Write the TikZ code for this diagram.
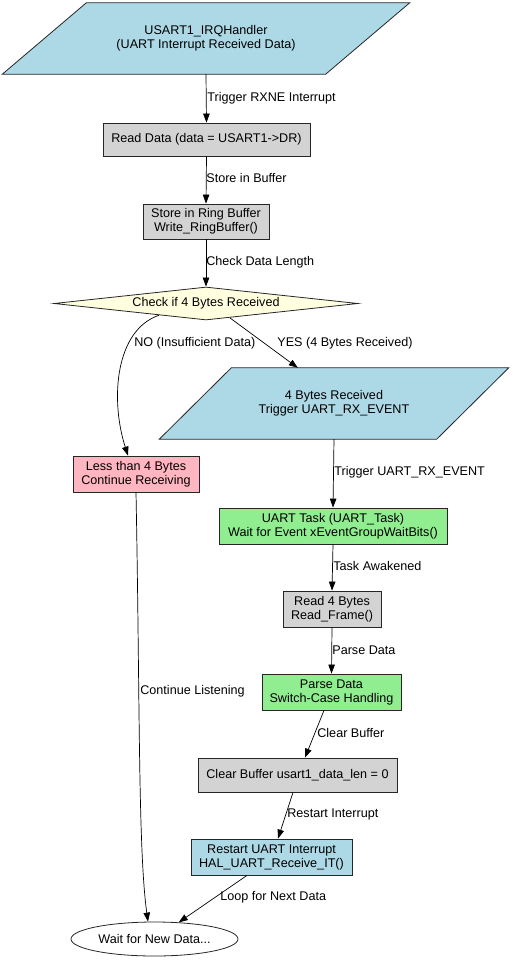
\documentclass[tikz,border=0pt]{standalone}
\usepackage{fontspec}
\setmainfont{Liberation Sans}
\usetikzlibrary{shapes.geometric,arrows.meta,calc,backgrounds}
\definecolor{cblue}{HTML}{ADD8E6}
\definecolor{cgray}{HTML}{D3D3D3}
\definecolor{cyellow}{HTML}{FFFFE0}
\definecolor{cpink}{HTML}{FFB6C1}
\definecolor{cgreen}{HTML}{90EE90}
\begin{document}
\begin{tikzpicture}[x=1pt,y=-1pt,
  every node/.style={font=\fontsize{12.6pt}{14pt}\selectfont, align=center, inner sep=0pt},
  box/.style={draw=black!85, line width=0.8pt, rectangle},
  para/.style={rectangle, minimum height=71pt},
  paraline/.style={draw=black!85, line width=0.8pt},
  arr/.style={-{Triangle[length=9pt,width=6.5pt]}, line width=0.7pt, draw=black},
  lbl/.style={anchor=west}
]
\useasboundingbox (0,0) rectangle (512,960);

% nodes
\node[para, minimum width=323pt] (irq) at (206,38.5) {USART1\_IRQHandler\\(UART Interrupt Received Data)};
\node[box, fill=cgray, minimum width=207pt, minimum height=33pt] (read) at (206.5,139.5) {Read Data (data = USART1->DR)};
\node[box, fill=cgray, minimum width=126pt, minimum height=35pt] (ring) at (206,221.5) {Store in Ring Buffer\\Write\_RingBuffer()};
\node[diamond, aspect=9.2, draw=black!85, line width=0.8pt, fill=cyellow, minimum width=304pt, minimum height=33pt] (dia) at (206,303.5) {Check if 4 Bytes Received};
\node[para, minimum width=277pt] (rx) at (334,403.5) {4 Bytes Received\\Trigger UART\_RX\_EVENT};
\node[box, fill=cpink, minimum width=126pt, minimum height=36pt] (less) at (136,474) {Less than 4 Bytes\\Continue Receiving};
\node[box, fill=cgreen, minimum width=228pt, minimum height=36pt] (task) at (333,526) {UART Task (UART\_Task)\\Wait for Event xEventGroupWaitBits()};
\node[box, fill=cgray, minimum width=98pt, minimum height=36pt] (read4) at (332,609) {Read 4 Bytes\\Read\_Frame()};
\node[box, fill=cgreen, minimum width=139pt, minimum height=36pt] (parse) at (331.5,692) {Parse Data\\Switch-Case Handling};
\node[box, fill=cgray, minimum width=199pt, minimum height=34pt] (clear) at (297.5,775) {Clear Buffer usart1\_data\_len = 0};
\node[box, fill=cblue, minimum width=161pt, minimum height=36pt] (restart) at (271.5,857) {Restart UART Interrupt\\HAL\_UART\_Receive\_IT()};
\node[ellipse, draw=black!85, line width=0.8pt, minimum width=167pt, minimum height=34pt, inner sep=0pt] (wait) at (154.5,939) {Wait for New Data...};

% parallelogram outlines
\begin{scope}[on background layer]
\draw[paraline, fill=cblue] ($(irq.south west)+(-42,0)$) -- ($(irq.south east)+(-42,0)$) -- ($(irq.north east)+(42,0)$) -- ($(irq.north west)+(42,0)$) -- cycle;
\draw[paraline, fill=cblue] ($(rx.south west)+(-36,0)$) -- ($(rx.south east)+(-36,0)$) -- ($(rx.north east)+(36,0)$) -- ($(rx.north west)+(36,0)$) -- cycle;
\end{scope}

% connectors
\draw[arr] (irq.south) -- (read.north) node[lbl] at (207,98) {Trigger RXNE Interrupt};
\draw[arr] (read.south) -- (ring.north) node[lbl] at (206,178) {Store in Buffer};
\draw[arr] (ring.south) -- (dia.north) node[lbl] at (206,262) {Check Data Length};
\draw[arr] (dia.194) .. controls ($(dia.194)+(-44,15)$) and ($(less.north)+(-26,-56)$) .. ($(less.north)+(-8,0)$) node[lbl] at (134,343) {NO (Insufficient Data)};
\draw[arr] (dia.329) -- ($(rx.north west)+(102.5,0)$) node[lbl] at (277,343) {YES (4 Bytes Received)};
\draw[arr] (rx.south) -- (task.north) node[lbl] at (334,472) {Trigger UART\_RX\_EVENT};
\draw[arr] (task.south) -- (read4.north) node[lbl] at (333,566) {Task Awakened};
\draw[arr] (read4.south) -- (parse.north) node[lbl] at (332,650) {Parse Data};
\draw[arr] ($(parse.south)+(-7.5,0)$) -- ($(clear.north)+(7.5,0)$) node[lbl] at (317,733) {Clear Buffer};
\draw[arr] ($(clear.south)+(-4.5,0)$) -- ($(restart.north)+(6.5,0)$) node[lbl] at (287,814) {Restart Interrupt};
\draw[arr] ($(restart.south)+(-24.5,0)$) -- (wait) node[lbl] at (220,897) {Loop for Next Data};
\draw[arr] (less.south) .. controls ($(less.south)+(4,208)$) and ($(wait.north)+(-16.5,-72)$) .. ($(wait.north)+(-6.5,0)$) node[lbl] at (140,691) {Continue Listening};
\end{tikzpicture}
\end{document}
